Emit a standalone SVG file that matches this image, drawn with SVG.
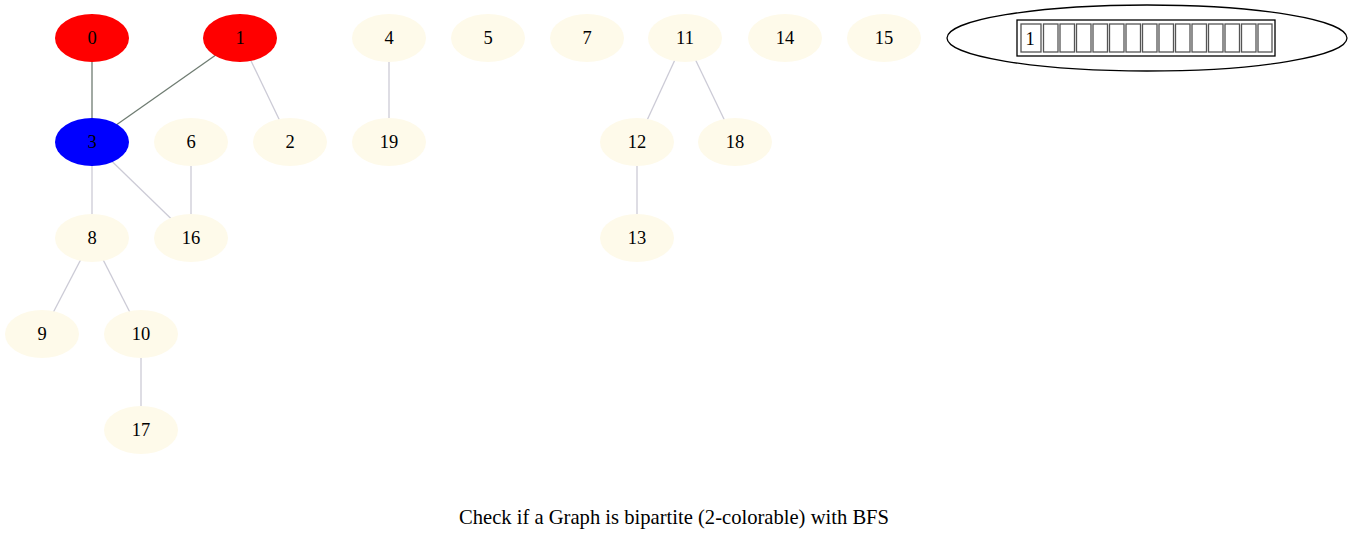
<svg xmlns="http://www.w3.org/2000/svg" width="1349" height="542" viewBox="0 0 1349 542">
<style>
.n ellipse{fill:#fefaea;stroke:none}
.n text,.lbl{font-family:"Liberation Serif","Times New Roman",serif;font-size:18.5px;fill:#000;text-anchor:middle}
.title{font-family:"Liberation Serif","Times New Roman",serif;font-size:20.6px;fill:#000;text-anchor:middle}
.e line{stroke:#cccbd6;stroke-width:1.3}
.e line.d{stroke:#6f7c72}
.cell{fill:none;stroke:#555;stroke-width:1.3}
</style>
<rect width="1349" height="542" fill="#fff"/>
<g id="edges" class="e">
<line class="d" x1="92" y1="38" x2="92" y2="142"/>
<line class="d" x1="240" y1="38" x2="92" y2="142"/>
<line x1="240" y1="38" x2="290" y2="142"/>
<line x1="92" y1="142" x2="92" y2="238"/>
<line x1="92" y1="142" x2="191" y2="238"/>
<line x1="191" y1="142" x2="191" y2="238"/>
<line x1="92" y1="238" x2="42" y2="334"/>
<line x1="92" y1="238" x2="141" y2="334"/>
<line x1="141" y1="334" x2="141" y2="430"/>
<line x1="389" y1="38" x2="389" y2="142"/>
<line x1="685" y1="38" x2="637" y2="142"/>
<line x1="685" y1="38" x2="735" y2="142"/>
<line x1="637" y1="142" x2="637" y2="238"/>
</g>
<g id="n0" class="n"><ellipse cx="92" cy="38" rx="37" ry="24" style="fill:#ff0000"/><text x="92" y="44">0</text></g>
<g id="n1" class="n"><ellipse cx="240" cy="38" rx="37" ry="24" style="fill:#ff0000"/><text x="240" y="44">1</text></g>
<g id="n3" class="n"><ellipse cx="92" cy="142" rx="37" ry="24" style="fill:#0000ff"/><text x="92" y="148">3</text></g>
<g id="n6" class="n"><ellipse cx="191" cy="142" rx="37" ry="24"/><text x="191" y="148">6</text></g>
<g id="n2" class="n"><ellipse cx="290" cy="142" rx="37" ry="24"/><text x="290" y="148">2</text></g>
<g id="n4" class="n"><ellipse cx="389" cy="38" rx="37" ry="24"/><text x="389" y="44">4</text></g>
<g id="n19" class="n"><ellipse cx="389" cy="142" rx="37" ry="24"/><text x="389" y="148">19</text></g>
<g id="n5" class="n"><ellipse cx="488" cy="38" rx="37" ry="24"/><text x="488" y="44">5</text></g>
<g id="n7" class="n"><ellipse cx="587" cy="38" rx="37" ry="24"/><text x="587" y="44">7</text></g>
<g id="n11" class="n"><ellipse cx="685" cy="38" rx="37" ry="24"/><text x="685" y="44">11</text></g>
<g id="n14" class="n"><ellipse cx="785" cy="38" rx="37" ry="24"/><text x="785" y="44">14</text></g>
<g id="n15" class="n"><ellipse cx="884" cy="38" rx="37" ry="24"/><text x="884" y="44">15</text></g>
<g id="n12" class="n"><ellipse cx="637" cy="142" rx="37" ry="24"/><text x="637" y="148">12</text></g>
<g id="n18" class="n"><ellipse cx="735" cy="142" rx="37" ry="24"/><text x="735" y="148">18</text></g>
<g id="n13" class="n"><ellipse cx="637" cy="238" rx="37" ry="24"/><text x="637" y="244">13</text></g>
<g id="n8" class="n"><ellipse cx="92" cy="238" rx="37" ry="24"/><text x="92" y="244">8</text></g>
<g id="n16" class="n"><ellipse cx="191" cy="238" rx="37" ry="24"/><text x="191" y="244">16</text></g>
<g id="n9" class="n"><ellipse cx="42" cy="334" rx="37" ry="24"/><text x="42" y="340">9</text></g>
<g id="n10" class="n"><ellipse cx="141" cy="334" rx="37" ry="24"/><text x="141" y="340">10</text></g>
<g id="n17" class="n"><ellipse cx="141" cy="430" rx="37" ry="24"/><text x="141" y="436">17</text></g>
<g id="queue">
<ellipse cx="1147" cy="38" rx="200" ry="33" fill="#fff" stroke="#000" stroke-width="1.3"/>
<rect x="1017" y="20" width="258" height="36" fill="none" stroke="#000" stroke-width="1.3"/>
<rect class="cell" x="1021" y="24" width="20" height="28"/>
<text class="lbl" x="1030" y="45">1</text>
<rect class="cell" x="1043.5" y="24" width="14.5" height="28"/>
<rect class="cell" x="1060" y="24" width="14.5" height="28"/>
<rect class="cell" x="1076.5" y="24" width="14.5" height="28"/>
<rect class="cell" x="1093" y="24" width="14.5" height="28"/>
<rect class="cell" x="1109.5" y="24" width="14.5" height="28"/>
<rect class="cell" x="1126" y="24" width="14.5" height="28"/>
<rect class="cell" x="1142.5" y="24" width="14.5" height="28"/>
<rect class="cell" x="1159" y="24" width="14.5" height="28"/>
<rect class="cell" x="1175.5" y="24" width="14.5" height="28"/>
<rect class="cell" x="1192" y="24" width="14.5" height="28"/>
<rect class="cell" x="1208.5" y="24" width="14.5" height="28"/>
<rect class="cell" x="1225" y="24" width="14.5" height="28"/>
<rect class="cell" x="1241.5" y="24" width="14.5" height="28"/>
<rect class="cell" x="1258" y="24" width="14" height="28"/>
</g>
<text class="title" x="674" y="524">Check if a Graph is bipartite (2-colorable) with BFS</text>
</svg>
